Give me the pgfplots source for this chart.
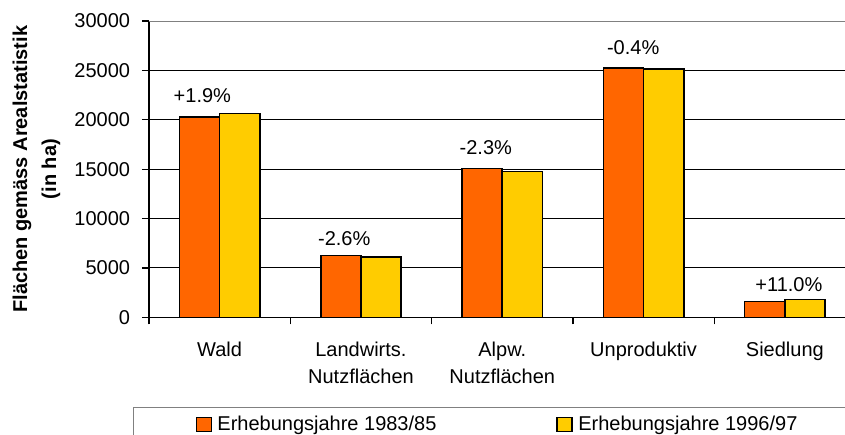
\documentclass[border=0pt]{standalone}
\usepackage{fontspec}
\setmainfont{Liberation Sans}
\usepackage{pgfplots}
\pgfplotsset{compat=1.18}
\definecolor{cOrange}{HTML}{FF6600}
\definecolor{cYellow}{HTML}{FFCC00}
\begin{document}
\begin{tikzpicture}
\begin{scope}
\clip (-74.5pt,-58.35pt) rectangle (348pt,158.65pt);
\begin{axis}[
  at={(0,0)}, anchor=south west,
  scale only axis, width=353.25pt, height=148.15pt,
  xmin=-0.5, xmax=4.5, ymin=0, ymax=30000,
  ybar=0pt, bar width=20.1pt,
  ytick={0,5000,...,30000},
  scaled y ticks=false,
  /pgf/number format/1000 sep={},
  /pgf/number format/assume math mode=true,
  ymajorgrids, grid style={black, line width=0.5pt},
  axis x line*=bottom, axis y line*=left,
  axis line style={black, line width=0.6pt},
  tick align=outside, major tick length=3.5pt,
  tick style={black, line width=0.6pt},
  xtick={-0.5,0.5,1.5,2.5,3.5,4.5}, xticklabels={},
  extra x ticks={0,1,2,3,4},
  extra x tick labels={Wald,{Landwirts.\\Nutzflächen},{Alpw.\\Nutzflächen},Unproduktiv,Siedlung},
  extra x tick style={major tick length=0pt, grid=none},
  xticklabel style={font=\fontsize{10}{13.5}\selectfont, align=center, inner sep=0pt, yshift=-12.2pt},
  yticklabel style={font=\fontsize{10}{12}\selectfont, inner sep=0pt, anchor=east},
  yticklabel shift=5.75pt,
  every axis y label/.style={at={(axis description cs:-0.125,0.5)}, rotate=90, anchor=south, inner sep=0pt, align=center, font=\bfseries\fontsize{10}{14.5}\selectfont},
  ylabel={Flächen gemäss Arealstatistik\\(in ha)},
  legend columns=2,
  legend image code/.code={\draw[#1, draw=black, line width=0.6pt] (0pt,-3.6pt) rectangle (7.5pt,3.6pt);},
  legend style={at={(axis description cs:-0.0222,-0.3037)}, anchor=north west, draw=gray, line width=0.5pt,
    inner xsep=30.85pt, inner ysep=4pt, font=\fontsize{10}{12}\selectfont,
    nodes={inner sep=0pt, text depth=0.15em},
    /tikz/every odd column/.append style={column sep=2.85pt},
    /tikz/every even column/.append style={column sep=60pt}},
]
\addplot[fill=cOrange, draw=black, line width=0.8pt] coordinates {(0,20300) (1,6270) (2,15050) (3,25270) (4,1580)};
\addlegendentry{Erhebungsjahre 1983/85}
\addplot[fill=cYellow, draw=black, line width=0.8pt] coordinates {(0,20650) (1,6110) (2,14760) (3,25160) (4,1790)};
\addlegendentry{Erhebungsjahre 1996/97}
\draw[gray, line width=0.6pt] (axis cs:-0.5,30000) -- (axis cs:4.5,30000);
\begin{scope}[every node/.style={anchor=base west, inner sep=0pt, font=\fontsize{10}{12}\selectfont}]
\node at (axis cs:-0.328,21770) {+1.9\%};
\node at (axis cs:0.694,7300) {-2.6\%};
\node at (axis cs:1.696,16500) {-2.3\%};
\node at (axis cs:2.739,26650) {-0.4\%};
\node at (axis cs:3.789,2600) {+11.0\%};
\end{scope}
\end{axis}
\end{scope}
\pgfresetboundingbox
\useasboundingbox (-74.5pt,-58.35pt) rectangle (348pt,158.65pt);
\end{tikzpicture}
\end{document}
